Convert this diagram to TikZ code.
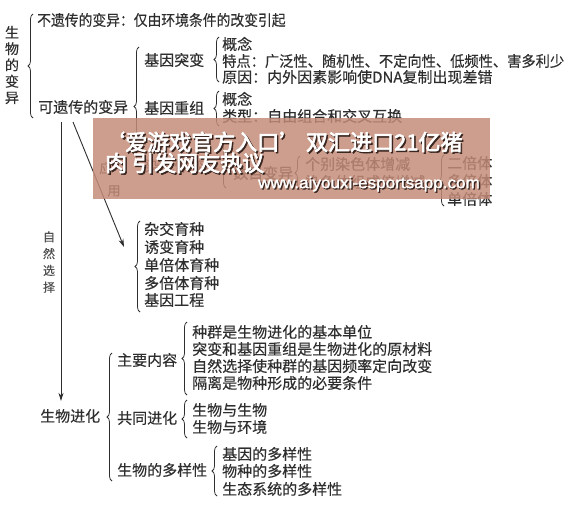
\documentclass[tikz,border=0pt]{standalone}
\usepackage{fontspec}
\setmainfont{Noto Sans CJK SC}[FakeBold=0.3]
\newfontfamily\wmfont{Noto Sans CJK SC}[FakeBold=3]
\newfontfamily\urlfont{Liberation Sans}[FakeBold=1.5]
\usetikzlibrary{decorations.pathreplacing,arrows.meta}
\definecolor{ink}{HTML}{2E2E2E}
\definecolor{inklight}{HTML}{505050}
\definecolor{wmbox}{HTML}{C48C78}
\definecolor{wmshadow}{HTML}{3A2620}
\begin{document}
\begin{tikzpicture}[x=1pt,y=-1pt,
  txt/.style={anchor=west,inner sep=0pt,text=ink,font=\fontsize{15}{17}\selectfont},
  vtxt/.style={inner sep=0pt,text=ink,align=center},
  brc/.style={draw=ink,line width=0.75pt,decorate,decoration={brace,amplitude=5pt}},
  arr/.style={draw=ink,line width=0.9pt,-{Stealth[length=8pt,width=5pt]}},
  wmtxt/.style={anchor=west,inner sep=0pt,text=white,font=\wmfont\fontsize{22}{24}\selectfont},
  wmsh/.style={anchor=west,inner sep=0pt,text=wmshadow,font=\wmfont\fontsize{22}{24}\selectfont},
  urltxt/.style={anchor=west,inner sep=0pt,text=white,font=\urlfont\fontsize{16}{18}\selectfont},
  urlsh/.style={anchor=west,inner sep=0pt,text=wmshadow,font=\urlfont\fontsize{16}{18}\selectfont}]
\useasboundingbox (0,0) rectangle (582,517);
\fill[white] (0,0) rectangle (582,517);

% ---- 生物的变异 ----
\node[vtxt,font=\fontsize{14}{16.3}\selectfont] (swby) at (12,65) {生\\物\\的\\变\\异};
\draw[brc] (33,118) -- (33,14);
\node[txt] (byc) at (37,20) {\scalebox{0.92}[1]{不遗传的变异：仅由环境条件的改变引起}};
\node[txt] (kyc) at (38,107) {可遗传的变异};
\draw[brc] (139,166) -- (139,47);

\node[txt] (jytb) at (144,60) {基因突变};
\draw[brc] (219,82) -- (219,37);
\node[txt] (gn1) at (222,44) {概念};
\node[txt] (td) at (222,61) {\scalebox{0.95}[1]{特点：广泛性、随机性、不定向性、低频性、害多利少}};
\node[txt] (yy) at (222,77) {原因：内外因素影响使DNA复制出现差错};

\node[txt] (jycz) at (144,108) {基因重组};
\draw[brc] (219,126) -- (219,91);
\node[txt] (gn2) at (222,99) {概念};
\node[txt] (lx) at (222,116) {类型：自由组合和交叉互换};

% ---- 染色体变异 (partly hidden) ----
\node[txt] (rstby) at (144,166) {染色体变异};
\draw[brc] (226,188) -- (226,140);
\node[txt] (smby) at (233,173) {数目变异};
\draw[brc] (300,190) -- (300,156);
\node[txt] (gbrs) at (305,164) {个别染色体增减};
\node[txt] (rstz) at (305,182) {染色体组成倍增减};
\draw[brc] (444,206) -- (444,155);
\node[txt] (ebt) at (447,163) {二倍体};
\node[txt] (dbt) at (447,181) {多倍体};
\node[txt] (dbt2) at (447,199) {单倍体};
\node[vtxt,font=\fontsize{13}{15}\selectfont] (ying) at (106,168) {应};
\node[vtxt,font=\fontsize{13}{15}\selectfont] (yong) at (114,191) {用};

% ---- 育种 ----
\draw[brc] (140,312) -- (140,221);
\node[txt] (zjyz) at (144,229) {杂交育种};
\node[txt] (ybyz) at (144,247) {诱变育种};
\node[txt] (dbyz) at (144,265) {单倍体育种};
\node[txt] (dbyz2) at (144,283) {多倍体育种};
\node[txt] (jygc) at (144,300) {基因工程};

% ---- 自然选择 ----
\node[vtxt,text=inklight,font=\fontsize{12}{16.8}\selectfont] (zrxz) at (49,262) {自\\然\\选\\择};

% ---- 生物进化 ----
\node[txt] (swjh) at (40,416) {生物进化};
\draw[brc] (112,481) -- (112,353);
\node[txt] (zynr) at (117,360) {主要内容};
\draw[brc] (187,395) -- (187,322);
\node[txt] (n1) at (192,332) {种群是生物进化的基本单位};
\node[txt] (n2) at (192,349) {突变和基因重组是生物进化的原材料};
\node[txt] (n3) at (192,366) {自然选择使种群的基因频率定向改变};
\node[txt] (n4) at (192,383) {隔离是物种形成的必要条件};
\node[txt] (gtjh) at (117,418) {共同进化};
\draw[brc] (187,438) -- (187,400);
\node[txt] (g1) at (192,410) {生物与生物};
\node[txt] (g2) at (192,427) {生物与环境};
\node[txt] (dyx) at (117,470) {生物的多样性};
\draw[brc] (217,496) -- (217,446);
\node[txt] (d1) at (222,454) {基因的多样性};
\node[txt] (d2) at (222,471) {物种的多样性};
\node[txt] (d3) at (222,489) {生态系统的多样性};

% ---- arrows ----
\coordinate (vs) at (61,122);
\coordinate (ds) at (73,122);
\coordinate (de) at (124,247);
\draw[arr,shorten >=8pt] (vs) -- (vs |- swjh.north);
\draw[arr] (ds) -- (de);

% ---- overlay box ----
\fill[wmbox,fill opacity=0.84] (93,118) rectangle (490,199);
\node[wmsh] (w1s) at (104.5,143.5) {‘爱游戏官方入口’ 双汇进口21亿猪};
\node[wmtxt] (w1) at (103,142) {‘爱游戏官方入口’ 双汇进口21亿猪};
\node[wmsh] (w2s) at (106.5,164.5) {肉 引发网友热议};
\node[wmtxt] (w2) at (105,163) {肉 引发网友热议};
\node[urlsh] (w3s) at (259.3,185.3) {\scalebox{1.07}[1]{www.aiyouxi-esportsapp.com}};
\node[urltxt] (w3) at (258,184) {\scalebox{1.07}[1]{www.aiyouxi-esportsapp.com}};
\end{tikzpicture}
\end{document}
